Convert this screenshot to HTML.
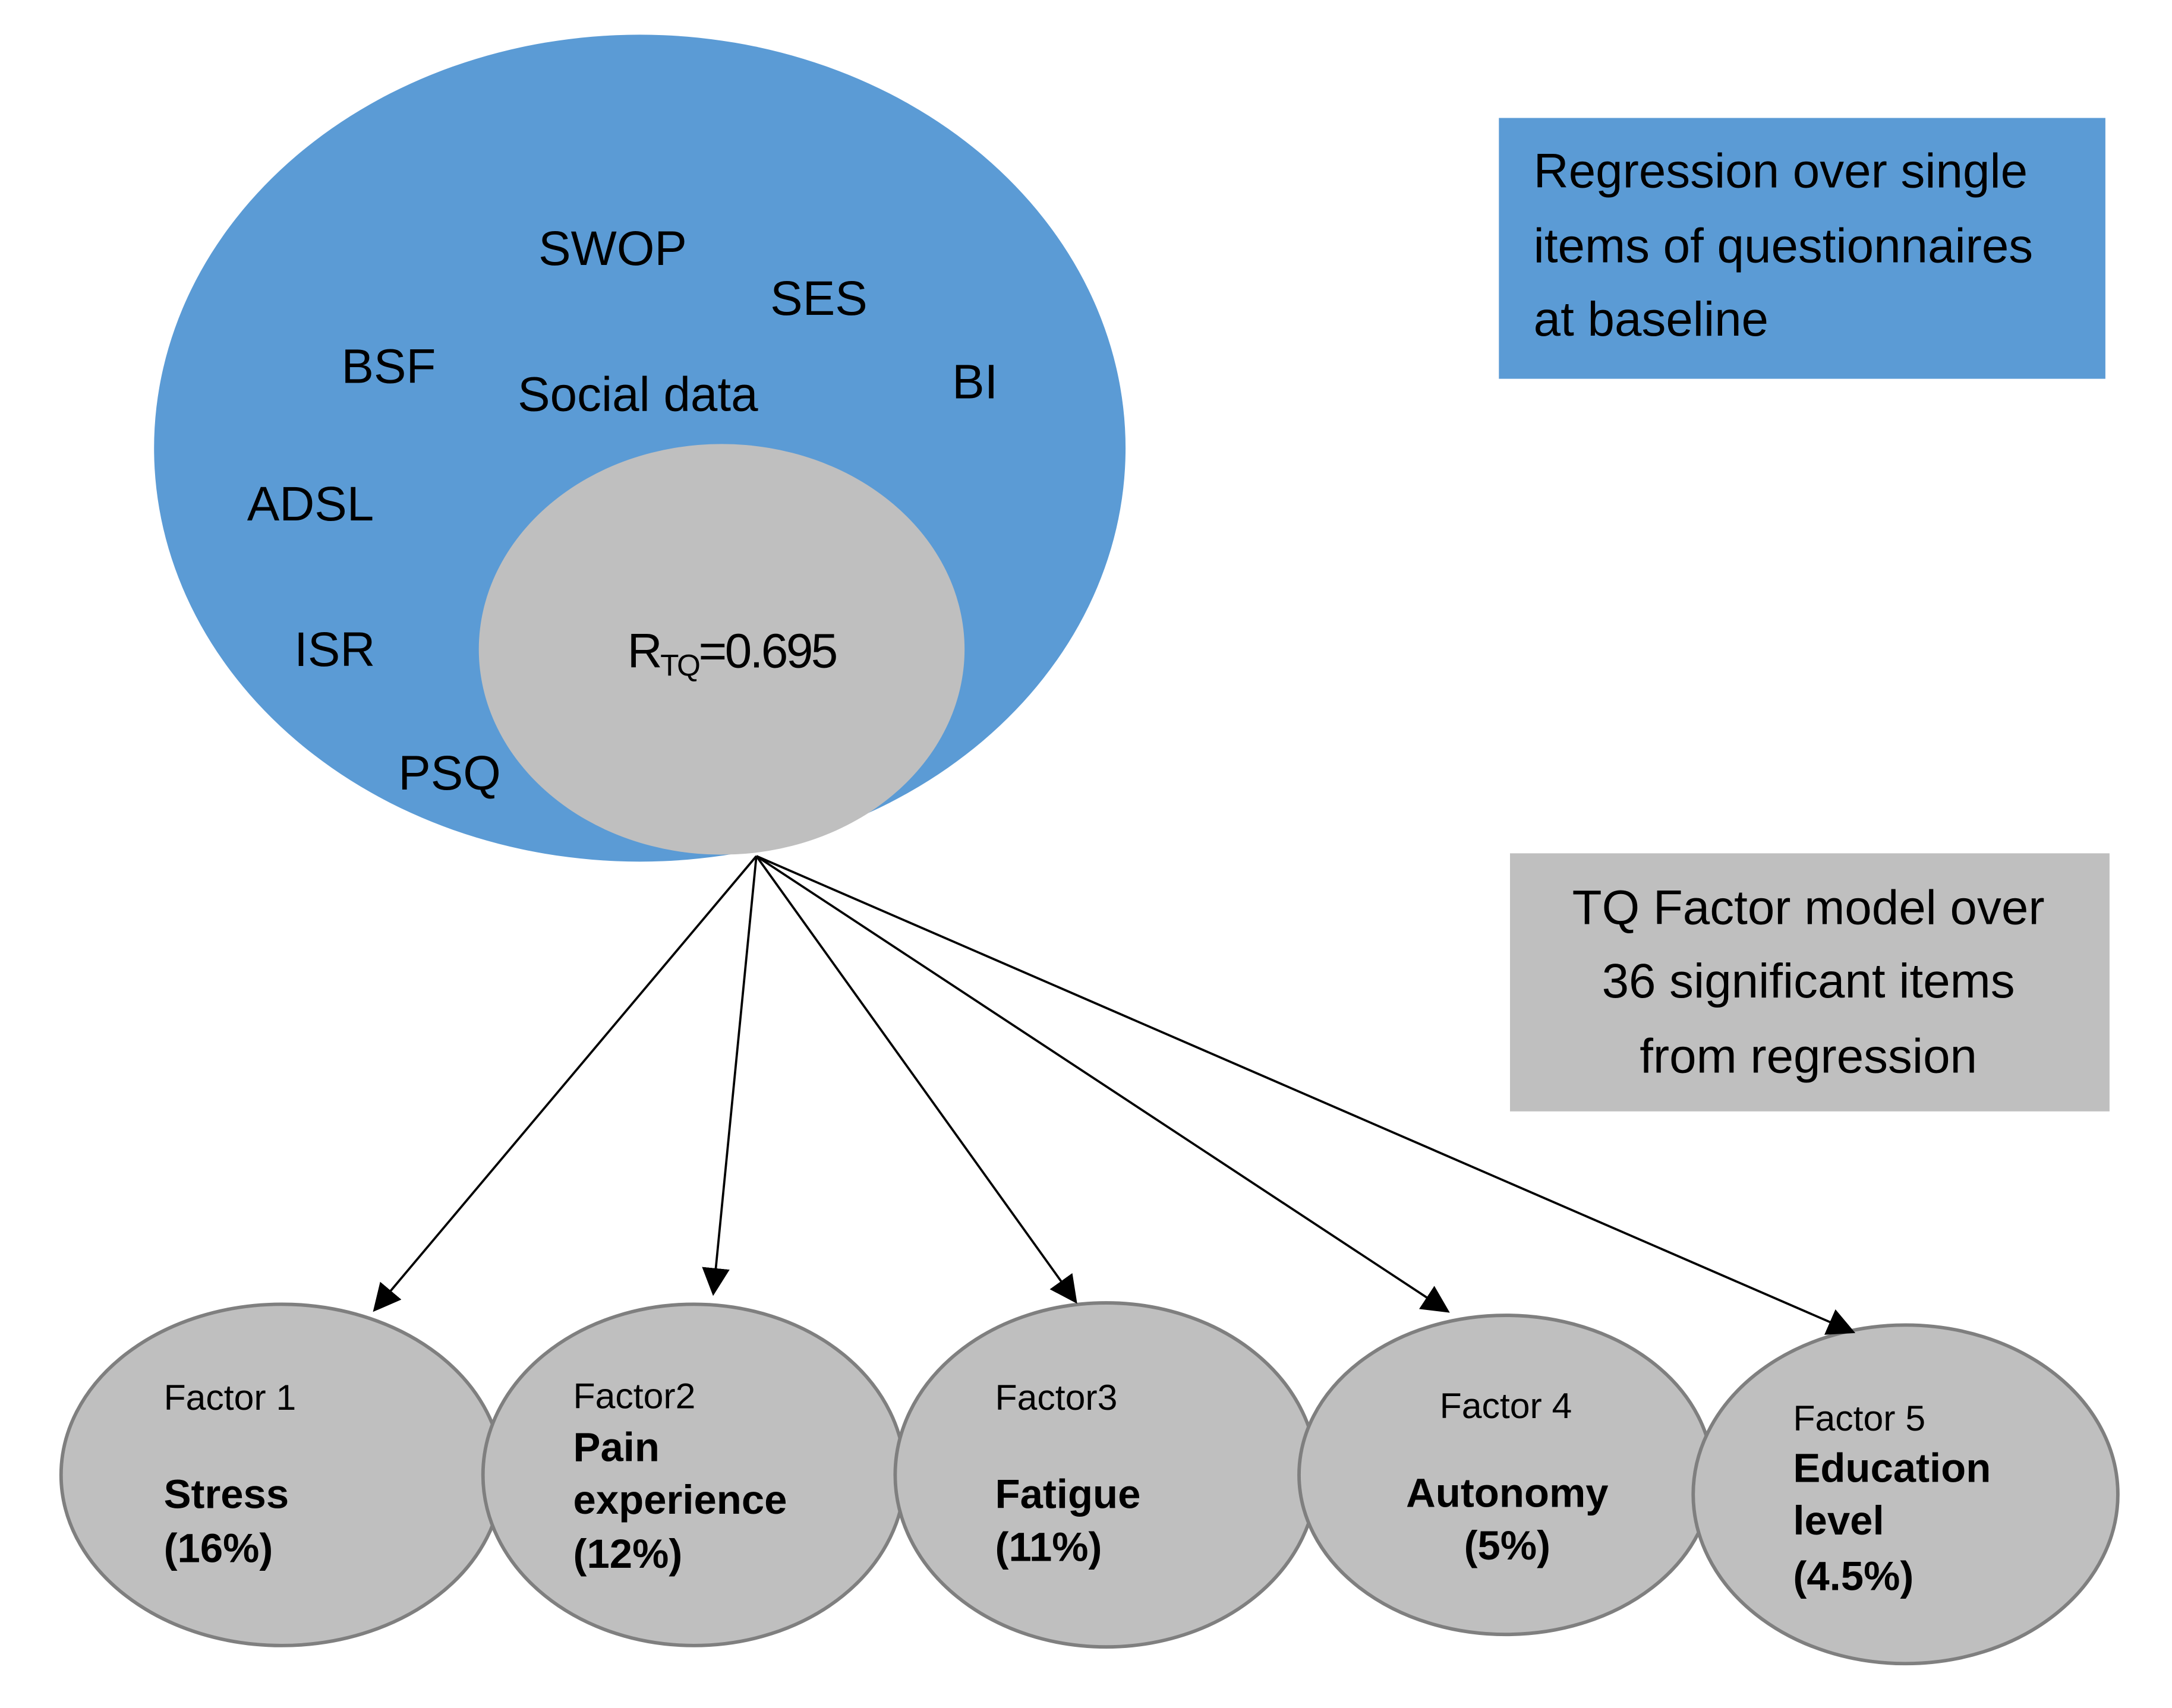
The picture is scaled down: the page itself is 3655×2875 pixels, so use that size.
<!DOCTYPE html>
<html><head><meta charset="utf-8"><style>
html,body{margin:0;padding:0;background:#fff;}
svg{display:block;}
text{font-family:"Liberation Sans",Arial,sans-serif;fill:#000;}
</style></head><body>
<svg width="3655" height="2875" viewBox="0 0 1565 1231" xmlns="http://www.w3.org/2000/svg">
<defs>
<marker id="b" viewBox="0 0 10 10" refX="9" refY="5" markerWidth="20" markerHeight="20" markerUnits="userSpaceOnUse" orient="auto"><path d="M0,0 L10,5 L0,10 z" fill="#000"/></marker></defs>
<rect width="1565" height="1231" fill="#fff"/>
<ellipse cx="461" cy="323" rx="350" ry="298" fill="#5b9bd5"/>
<ellipse cx="520" cy="468" rx="175" ry="148" fill="#bfbfbf"/>
<g font-size="35">
<text x="388" y="191">SWOP</text>
<text x="555" y="227">SES</text>
<text x="246" y="276">BSF</text>
<text x="373" y="296">Social data</text>
<text x="686" y="287">BI</text>
<text x="178" y="375">ADSL</text>
<text x="212" y="480">ISR</text>
<text x="287" y="569">PSQ</text>
<text x="452" y="481" letter-spacing="-1.5">R<tspan font-size="22" dy="6">TQ</tspan><tspan dy="-6">=0.695</tspan></text>
</g>
<rect x="1080" y="85" width="437" height="188" fill="#5b9bd5"/>
<g font-size="35">
<text x="1105" y="135">Regression over single</text>
<text x="1105" y="189">items of questionnaires</text>
<text x="1105" y="242">at baseline</text>
</g>
<rect x="1088" y="615" width="432" height="186" fill="#bfbfbf"/>
<g font-size="35" text-anchor="middle">
<text x="1303" y="666">TQ Factor model over</text>
<text x="1303" y="719">36 significant items</text>
<text x="1303" y="773">from regression</text>
</g>
<g stroke="#7f7f7f" stroke-width="2.5" fill="#bfbfbf">
<ellipse cx="203" cy="1063" rx="159" ry="123"/>
<ellipse cx="500" cy="1063" rx="152" ry="123"/>
<ellipse cx="797" cy="1063" rx="152" ry="124"/>
<ellipse cx="1085" cy="1063" rx="149" ry="115"/>
<ellipse cx="1373" cy="1077" rx="153" ry="122"/>
</g>
<g stroke="#000" stroke-width="1.6" marker-end="url(#b)">
<line x1="545" y1="617" x2="270" y2="944"/>
<line x1="545" y1="617" x2="514" y2="932"/>
<line x1="545" y1="617" x2="775" y2="938"/>
<line x1="545" y1="617" x2="1043" y2="945"/>
<line x1="545" y1="617" x2="1335" y2="960"/>
</g>
<g font-size="26">
<text x="118" y="1016">Factor 1</text>
<text x="413" y="1015">Factor2</text>
<text x="717" y="1016">Factor3</text>
<text x="1085" y="1022" text-anchor="middle">Factor 4</text>
<text x="1292" y="1031">Factor 5</text>
</g>
<g font-size="29.5" font-weight="bold">
<text x="118" y="1087">Stress</text>
<text x="118" y="1126">(16%)</text>
<text x="413" y="1053">Pain</text>
<text x="413" y="1091">experience</text>
<text x="413" y="1130">(12%)</text>
<text x="717" y="1087">Fatigue</text>
<text x="717" y="1125">(11%)</text>
<text x="1086" y="1086" text-anchor="middle">Autonomy</text>
<text x="1086" y="1124" text-anchor="middle">(5%)</text>
<text x="1292" y="1068">Education</text>
<text x="1292" y="1106">level</text>
<text x="1292" y="1146">(4.5%)</text>
</g>
</svg>
</body></html>
